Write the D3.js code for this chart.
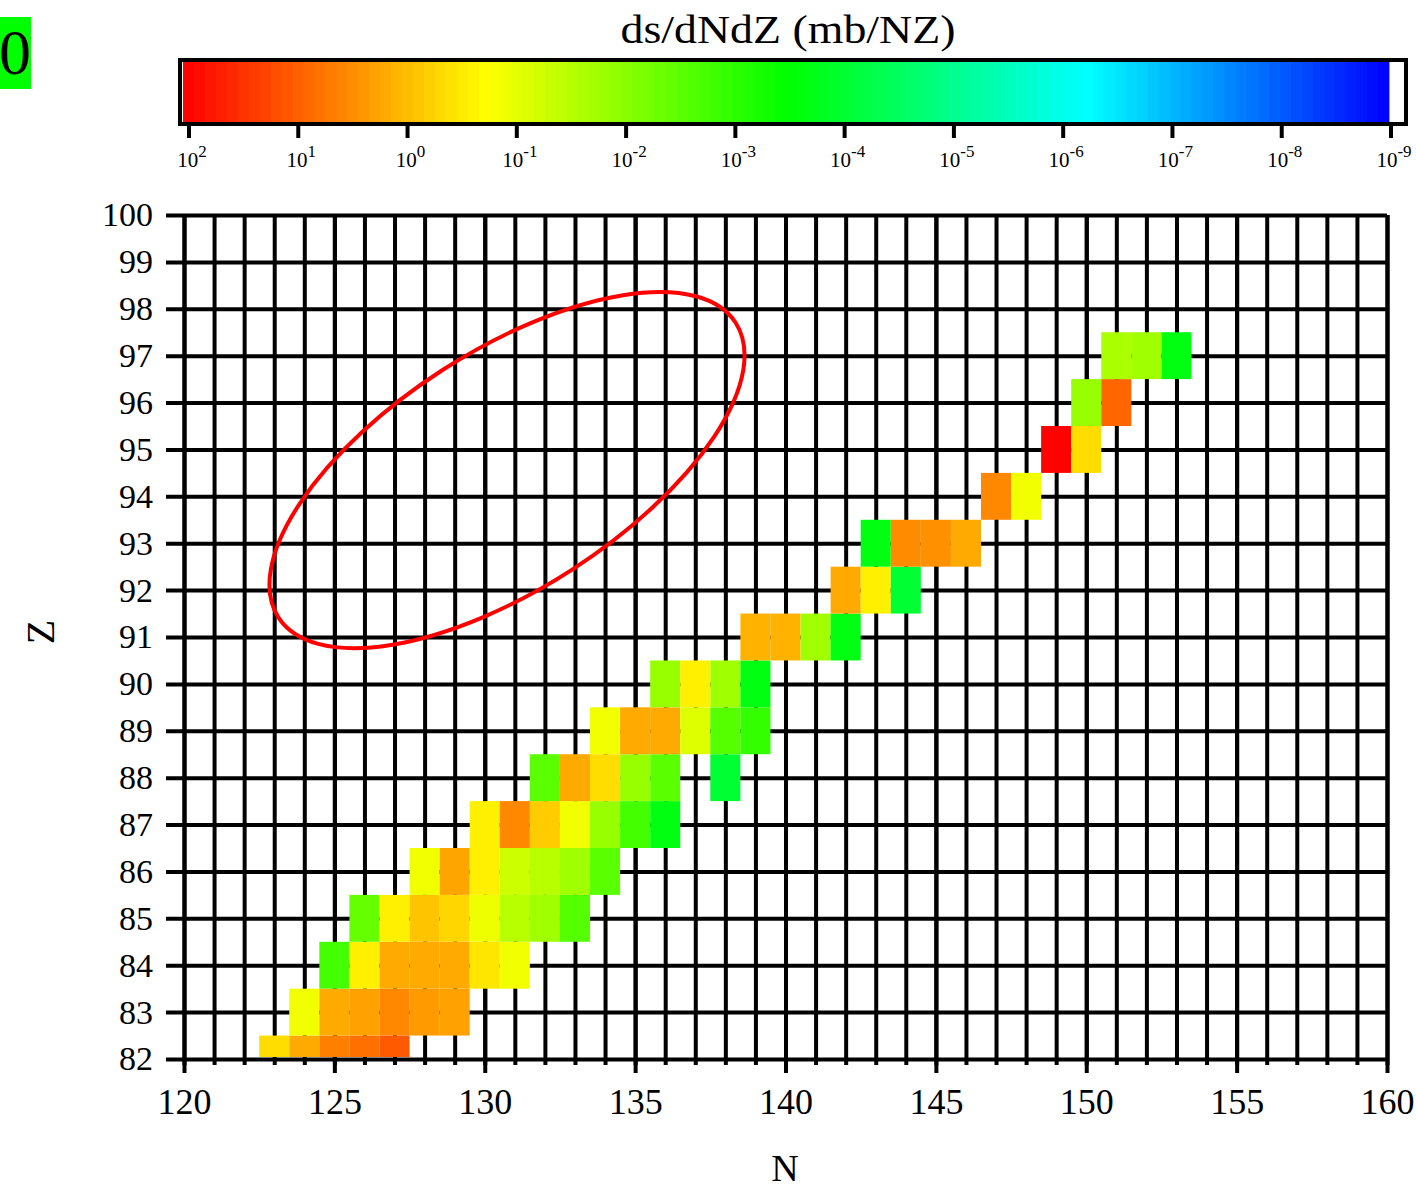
<!DOCTYPE html>
<html><head><meta charset="utf-8">
<script src="https://cdn.jsdelivr.net/npm/d3@7"></script>
<style>
body{margin:0;background:#fff}
svg{display:block}
text{font-family:"Liberation Serif","Times New Roman",serif;fill:#000}
</style>
</head><body><svg id="c" width="1416" height="1191"></svg>
<script>
// ---- data ----
const Z_ROWS  = [82, 83, 84, 85, 86, 87, 88, 89, 90, 91, 92, 93, 94, 95, 96, 97];
const N_START = [123,124,125,126,128,130,132,134,136,139,142,143,147,149,150,151];
const SIGMA_MB = [
  [0.45, 1.6, 4.5, 6.8, 11.7],
  [0.14, 1.6, 2.0, 3.7, 2.4, 2.0],
  [1.8e-3, 0.29, 1.6, 1.6, 1.6, 0.36, 0.14],
  [4.3e-3, 0.29, 0.84, 0.53, 0.126, 0.033, 0.018, 2.8e-3],
  [0.14, 1.8, 0.29, 0.054, 0.033, 0.018, 3.2e-3],
  [0.29, 3.7, 0.69, 0.14, 0.015, 1.8e-3, 2.2e-4],
  [3.2e-3, 1.6, 0.45, 0.015, 3.2e-3, null, 9.5e-5],
  [0.14, 1.6, 1.6, 0.083, 2.8e-3, 1.2e-3],
  [0.015, 0.28, 0.018, 2.2e-4],
  [1.28, 1.28, 0.018, 2.2e-4],
  [1.6, 0.28, 9.5e-5],
  [2.2e-4, 3.4, 3.0, 1.6],
  [3.7, 0.14],
  [105, 0.45],
  [0.015, 8.7],
  [0.023, 0.018, 2.2e-4]
];
const X_TICKS = [120, 125, 130, 135, 140, 145, 150, 155, 160];
const X_TICK_LABELS = ["120","125","130","135","140","145","150","155","160"];
const Y_TICKS = [82,83,84,85,86,87,88,89,90,91,92,93,94,95,96,97,98,99,100];
const CB_EXPONENTS = [2,1,0,-1,-2,-3,-4,-5,-6,-7,-8,-9];
const CB_STOP_LOGS = [2.04, -0.715, -3.47, -6.225, -8.98];
const CB_STOP_COLORS = ["#ff0000","#ffff00","#00ff00","#00ffff","#0000ff"];
const TITLE = "ds/dNdZ (mb/NZ)";
const PANEL_LABEL = "0";
const X_TITLE = "N", Y_TITLE = "Z";
const ELLIPSE_CENTER = [130.74, 94.56]; // N, Z

// ---- drawing ----
const svg = d3.select("#c");
const x = d3.scaleLinear().domain([120,160]).range([184,1387]);
const y = d3.scaleLinear().domain([82,100]).range([1059,215]);
const color = d3.scaleLinear().domain(CB_STOP_LOGS).range(CB_STOP_COLORS).clamp(true);

// panel label
svg.append("rect").attr("x",0).attr("y",17).attr("width",31).attr("height",72).attr("fill","#00ff00");
svg.append("text").attr("x",15).attr("y",74).attr("text-anchor","middle").attr("font-size",64).text(PANEL_LABEL);

// title
svg.append("text").attr("x",788).attr("y",43).attr("text-anchor","middle").attr("font-size",41)
  .attr("textLength",335).attr("lengthAdjust","spacingAndGlyphs").text(TITLE);

// colorbar
const cbX = d3.scaleLinear().domain([2,-9]).range([189,1391]);
const cbStart = 2.055, cbEnd = -8.98, nb = 110;
const bands = d3.range(nb).map(i => {
  const a = cbStart + (cbEnd-cbStart)*i/nb, b = cbStart + (cbEnd-cbStart)*(i+1)/nb;
  return {a, b};
});
svg.append("g").selectAll("rect").data(bands).join("rect")
  .attr("x", d => cbX(d.a)).attr("width", d => cbX(d.b)-cbX(d.a)+0.6)
  .attr("y",62).attr("height",60).attr("fill", d => color((d.a+d.b)/2));
svg.append("rect").attr("x",180).attr("y",60).attr("width",1226).attr("height",64)
  .attr("fill","none").attr("stroke","#000").attr("stroke-width",4);
const cbT = svg.append("g").selectAll("g").data(CB_EXPONENTS).join("g");
cbT.append("line").attr("x1",d=>cbX(d)).attr("x2",d=>cbX(d)).attr("y1",126).attr("y2",138)
  .attr("stroke","#000").attr("stroke-width",4);
const cbl = cbT.append("text").attr("x",d=>cbX(d)+3).attr("y",167).attr("text-anchor","middle").attr("font-size",21);
cbl.append("tspan").text("10");
cbl.append("tspan").attr("font-size",17).attr("dy",-10).text(d => String(d));

// grid (minor verticals)
const gridStyle = g => {
  g.select(".domain").remove();
  g.selectAll("line").attr("stroke","#000").attr("stroke-width",4);
  g.attr("font-family",null).attr("font-size",null);
};
svg.append("g").attr("transform",`translate(0,${y(82)+6})`)
  .call(d3.axisBottom(x).tickValues(d3.range(120,161)).tickSize(-(y(82)+6-y(100))).tickFormat(""))
  .call(gridStyle);
// major verticals + labels
const xa = svg.append("g").attr("transform",`translate(0,${y(82)+14})`)
  .call(d3.axisBottom(x).tickValues(X_TICKS).tickSize(-(y(82)+14-y(100))).tickPadding(15)
        .tickFormat((d,i)=>X_TICK_LABELS[i]))
  .call(gridStyle);
xa.selectAll("text").attr("font-size",36).attr("fill","#000");
// horizontals + labels
const ya = svg.append("g").attr("transform",`translate(166,0)`)
  .call(d3.axisLeft(y).tickValues(Y_TICKS).tickSize(-(x(160)-166)).tickPadding(13).tickFormat(d3.format("d")))
  .call(gridStyle);
ya.selectAll("text").attr("font-size",34).attr("fill","#000");

// cells
const cells = [];
Z_ROWS.forEach((z,i) => SIGMA_MB[i].forEach((v,j) => { if (v != null) cells.push({z, n:N_START[i]+j, v}); }));
svg.append("clipPath").attr("id","pc").append("rect")
  .attr("x",x(120)).attr("y",y(100)).attr("width",x(160)-x(120)).attr("height",y(82)-y(100)-2);
svg.append("g").attr("clip-path","url(#pc)").selectAll("rect").data(cells).join("rect")
  .attr("x", d => x(d.n-0.5)).attr("y", d => y(d.z+0.5))
  .attr("width", d => x(d.n+0.5)-x(d.n-0.5)).attr("height", d => y(d.z-0.5)-y(d.z+0.5))
  .attr("fill", d => color(Math.log10(d.v)));

// ellipse annotation
svg.append("ellipse").attr("cx",0).attr("cy",0).attr("rx",272).attr("ry",119)
  .attr("transform",`translate(${x(ELLIPSE_CENTER[0])},${y(ELLIPSE_CENTER[1])}) rotate(-32.8)`)
  .attr("fill","none").attr("stroke","#ff0000").attr("stroke-width",4);

// axis titles
svg.append("text").attr("transform","translate(54,632) rotate(-90)").attr("text-anchor","middle")
  .attr("font-size",40).text(Y_TITLE);
svg.append("text").attr("x",785).attr("y",1181).attr("text-anchor","middle").attr("font-size",38).text(X_TITLE);
</script>
</body></html>
